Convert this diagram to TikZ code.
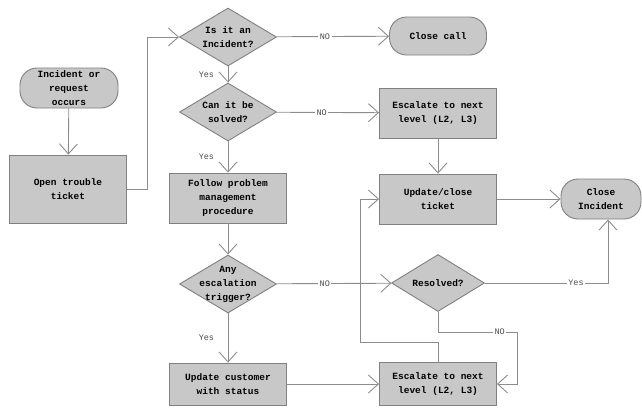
\documentclass[tikz,border=0pt]{standalone}
\usepackage{fontspec}
\setmonofont{Liberation Mono}
\usetikzlibrary{arrows.meta,positioning,shapes.geometric}
\definecolor{boxfill}{RGB}{200,200,200}
\definecolor{boxline}{RGB}{128,128,128}
\definecolor{wire}{RGB}{140,140,140}
\begin{document}
\begin{tikzpicture}[x=1pt,y=-1pt,
		txt/.style={align=center,font=\ttfamily\bfseries\fontsize{9.5}{14}\selectfont},
		box/.style={txt,draw=boxline,fill=boxfill,line width=0.9pt,minimum width=117pt,inner sep=0pt},
		endbox/.style={box,rounded corners=17pt},
		dia/.style={diamond,draw=boxline,fill=boxfill,line width=0.9pt,minimum width=97pt,minimum height=58pt,inner sep=0pt},
		flow/.style={draw=wire,line width=0.9pt,-{Straight Barb[length=10pt,width=18pt]}},
		lbl/.style={font=\ttfamily\fontsize{8.5}{9}\selectfont,text=black!70,fill=white,inner sep=1.5pt}]
		\useasboundingbox (0,0) rectangle (642,418);
		\coordinate (bendA) at (147,37);
		\coordinate (bendB) at (517,332);
		\coordinate (bendC) at (360,342);
		% left column
		\node[endbox,minimum width=98pt,minimum height=40pt] (start) at (69,88) {Incident or\\request\\occurs};
		\node[box,minimum height=68pt] (open) at (68,189) {Open trouble\\ticket};
		% middle column
		\node[dia,label={[txt]center:{Is it an\\Incident?}}] (d1) at (228,37) {};
		\node[dia,label={[txt]center:{Can it be\\solved?}}] (d2) at (228,112) {};
		\node[box,minimum height=50pt] (follow) at (228,198) {Follow problem\\management\\procedure};
		\node[dia,label={[txt]center:{Any\\escalation\\trigger?}}] (d3) at (228,284) {};
		\node[box,minimum height=42pt] (updc) at (228,384) {Update customer\\with status};
		% right columns
		\node[endbox,minimum width=97pt,minimum height=38pt] (closecall) at (438,36) {Close call};
		\node[box,minimum height=50pt] (esc1) at (438,113) {Escalate to next\\level (L2, L3)};
		\node[box,minimum height=50pt] (upd) at (438,199) {Update/close\\ticket};
		\node[endbox,minimum width=80pt,minimum height=40pt] (closeinc) at (601,199) {Close\\Incident};
		\node[dia,minimum width=93pt,minimum height=57pt,label={[txt]center:{Resolved?}}] (res) at (438,283) {};
		\node[box,minimum height=43pt] (esc2) at (438,384) {Escalate to next\\level (L2, L3)};
		% connectors
		\draw[flow] (start) -- (open);
		\draw[flow] (open.east) -| (bendA) -- (d1.west);
		\draw[flow] (d1) -- node[lbl,pos=0.43] {NO} (closecall);
		\draw[flow] (d1) -- node[lbl,left=12pt] {Yes} (d2);
		\draw[flow] (d2) -- node[lbl,pos=0.44] {NO} (esc1);
		\draw[flow] (d2) -- node[lbl,left=12pt] {Yes} (follow);
		\draw[flow] (esc1) -- (upd);
		\draw[flow] (upd) -- (closeinc);
		\draw[flow] (follow) -- (d3);
		\draw[flow] (d3) -- node[lbl,pos=0.42] {NO} (res);
		\draw[flow] (d3) -- node[lbl,left=12pt] {Yes} (updc);
		\draw[flow] (updc) -- (esc2);
		\draw[flow] (res.east) -| node[lbl,pos=0.37] {Yes} ([xshift=7pt]closeinc.south);
		\draw[flow] (res.south) |- node[lbl,pos=0.89] {NO} (bendB) |- (esc2.east);
		\draw[flow] (esc2.north) |- (bendC) |- (upd.west);
	\end{tikzpicture}
\end{document}
